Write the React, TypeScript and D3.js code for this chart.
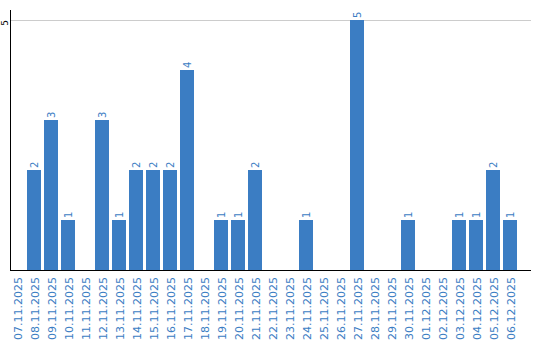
import React from "react";
import * as d3 from "d3";

const dates = [
  "07.11.2025","08.11.2025","09.11.2025","10.11.2025","11.11.2025","12.11.2025",
  "13.11.2025","14.11.2025","15.11.2025","16.11.2025","17.11.2025","18.11.2025",
  "19.11.2025","20.11.2025","21.11.2025","22.11.2025","23.11.2025","24.11.2025",
  "25.11.2025","26.11.2025","27.11.2025","28.11.2025","29.11.2025","30.11.2025",
  "01.12.2025","02.12.2025","03.12.2025","04.12.2025","05.12.2025","06.12.2025",
];
const counts = [0,2,3,1,0,3,1,2,2,2,4,0,1,1,2,0,0,1,0,0,5,0,0,1,0,0,1,1,2,1];
const yTicks = [5];

const W = 540, H = 340;
const left = 10, top = 10, bottom = 270, axisRight = 531;
const color = "#3b7dc3";
const font = "DejaVu Sans, Verdana, sans-serif";

export default function App() {
  const x = d3.scaleBand<string>().domain(dates).range([left, 517]).paddingInner(3 / 17).paddingOuter(0);
  const y = d3.scaleLinear().domain([0, 5]).range([bottom, 20]);
  return (
    <svg width={W} height={H} style={{ position: "absolute", left: 0, top: 0, background: "#fff" }}>
      {yTicks.map((t) => (
        <g key={t}>
          <line x1={left} x2={axisRight} y1={y(t)} y2={y(t)} stroke="#cccccc" strokeWidth={1} shapeRendering="crispEdges" />
          <text transform={`translate(${8},${y(t) + 3}) rotate(-90)`} textAnchor="middle" fontFamily={font} fontSize={9} fill="#000">{t}</text>
        </g>
      ))}
      {counts.map((v, i) =>
        v > 0 ? (
          <g key={dates[i]}>
            <rect x={x(dates[i])} y={y(v)} width={x.bandwidth()} height={bottom - y(v)} fill={color} shapeRendering="crispEdges" />
            <text
              transform={`translate(${(x(dates[i]) as number) + x.bandwidth() / 2 + 3.5},${y(v) - 2}) rotate(-90)`}
              textAnchor="start" fontFamily={font} fontSize={10} fill={color}
            >{v}</text>
          </g>
        ) : null
      )}
      <line x1={left + 0.5} x2={left + 0.5} y1={top} y2={bottom} stroke="#000" strokeWidth={1} shapeRendering="crispEdges" />
      <line x1={left} x2={axisRight} y1={bottom + 0.5} y2={bottom + 0.5} stroke="#000" strokeWidth={1} shapeRendering="crispEdges" />
      {dates.map((d) => (
        <text
          key={d}
          transform={`translate(${(x(d) as number) + x.bandwidth() / 2 + 5},${bottom + 7}) rotate(-90)`}
          textAnchor="end" fontFamily={font} fontSize={11} fill={color}
        >{d}</text>
      ))}
    </svg>
  );
}
